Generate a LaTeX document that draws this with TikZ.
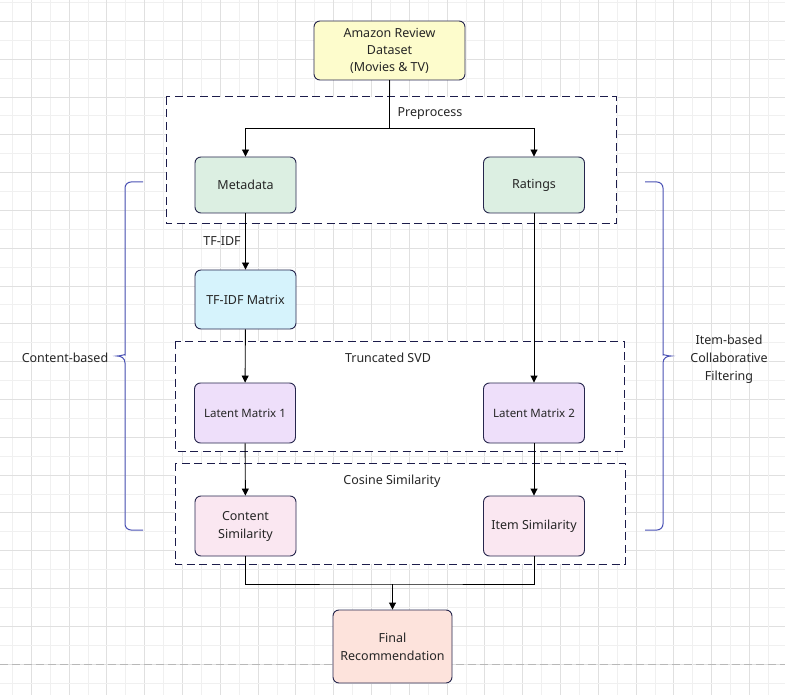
\documentclass[tikz,border=0pt]{standalone}
\usepackage{fontspec}
\setmainfont{Noto Sans}
\usetikzlibrary{arrows.meta}

\definecolor{boxline}{HTML}{26264D}
\definecolor{groupline}{HTML}{1C1C4A}
\definecolor{bracecol}{HTML}{4A52B5}
\definecolor{txt}{HTML}{262626}
\definecolor{dataset}{HTML}{FDFCCC}
\definecolor{source}{HTML}{DCEFE2}
\definecolor{tfidf}{HTML}{D6F3FC}
\definecolor{latent}{HTML}{EEDFFA}
\definecolor{simil}{HTML}{FAE7F1}
\definecolor{final}{HTML}{FDE3DC}

\tikzset{
  box/.style={draw=boxline, rounded corners=6pt, line width=0.9pt,
    minimum width=101pt, minimum height=57pt, align=center, text=txt},
  group/.style={draw=groupline, line width=1pt, dash pattern=on 8pt off 4.5pt, fill=white},
  arr/.style={-{Triangle[length=7pt,width=7pt]}, line width=0.9pt},
  brace/.style={draw=bracecol, line width=1pt},
  lbl/.style={text=txt, align=center}
}

\begin{document}
\begin{tikzpicture}[x=1pt, y=-1pt, font=\fontsize{12.5}{18}\selectfont]
  \useasboundingbox (0,0) rectangle (785,695);
  \fill[white] (0,0) rectangle (785,695);

  % grid
  \foreach \i in {0,...,20} {
    \draw[black!6, line width=0.8pt] ({12.3+37.8*\i},0) -- ++(0,695);
    \draw[black!12, line width=0.8pt] ({31.2+37.8*\i},0) -- ++(0,695);
    \draw[black!6, line width=0.8pt] (0,{2.5+37.8*\i}) -- ++(785,0);
    \draw[black!12, line width=0.8pt] (0,{21.4+37.8*\i}) -- ++(785,0);
  }
  \draw[black!28, line width=0.9pt, dash pattern=on 8pt off 4pt] (0,664) -- (785,664);

  % groups
  \draw[group] (166,97) rectangle (616,224);
  \draw[group] (175,341) rectangle (624,451);
  \draw[group] (175,463) rectangle (625,564);
  \node[lbl] (prep) at (430,114) {Preprocess};
  \node[lbl] (tsvd) at (388,358) {Truncated SVD};
  \node[lbl] (cosine) at (392,481) {Cosine Similarity};

  % nodes
  \node[box, fill=dataset, minimum width=151pt, minimum height=59pt, font=\fontsize{12.5}{17}\selectfont] (amazon) at (389.5,50.5)
    {Amazon Review\\Dataset\\(Movies \& TV)};
  \node[box, fill=source, minimum height=56pt] (meta) at (245.5,185) {Metadata};
  \node[box, fill=source, minimum height=56pt] (ratings) at (534,185) {Ratings};
  \node[box, fill=tfidf, minimum height=59pt] (tfmat) at (245.5,299.5) {TF-IDF Matrix};
  \node[box, fill=latent, minimum height=60pt, font=\fontsize{11.5}{15}\selectfont] (lat1) at (245,413) {Latent Matrix 1};
  \node[box, fill=latent, minimum height=60pt, font=\fontsize{11.5}{15}\selectfont] (lat2) at (534,413) {Latent Matrix 2};
  \node[box, fill=simil, minimum height=60pt] (csim) at (245.5,526) {Content\\Similarity};
  \node[box, fill=simil, minimum height=60pt] (isim) at (534,526) {Item Similarity};
  \node[box, fill=final, minimum width=119pt, minimum height=73pt] (rec) at (392.5,646.5)
    {Final\\Recommendation};

  % connectors
  \draw[arr] (amazon.south) -- ++(0,48) -| (meta.north);
  \draw[arr] (amazon.south) -- ++(0,48) -| (ratings.north);
  \draw[arr] (meta) -- node[lbl, pos=0.5, left=1pt] {TF-IDF} (tfmat);
  \draw[arr] (tfmat) -- (lat1);
  \draw[arr] (ratings) -- (lat2);
  \draw[arr] (lat1) -- (csim);
  \draw[arr] (lat2) -- (isim);
  \coordinate (join) at (rec.north |- 0,584);
  \draw[line width=0.9pt] (csim.south) |- (join) -| (isim.south);
  \draw[arr] (join) -- (rec.north);

  % braces
  \draw[brace] (143,182) [rounded corners=6pt] -- (125,182) -- (125,349) [sharp corners]
    .. controls (125,354) and (121,356) .. (117,356)
    .. controls (121,356) and (125,358) .. (125,363)
    [rounded corners=6pt] -- (125,530) -- (143,530);
  \draw[brace] (645,182) [rounded corners=6pt] -- (663,182) -- (663,349) [sharp corners]
    .. controls (663,354) and (667,356) .. (671,356)
    .. controls (667,356) and (663,358) .. (663,363)
    [rounded corners=6pt] -- (663,530) -- (645,530);
  \node[lbl] (content) at (65,358) {Content-based};
  \node[lbl] (itemcf) at (729,359) {Item-based\\Collaborative\\Filtering};
\end{tikzpicture}
\end{document}
